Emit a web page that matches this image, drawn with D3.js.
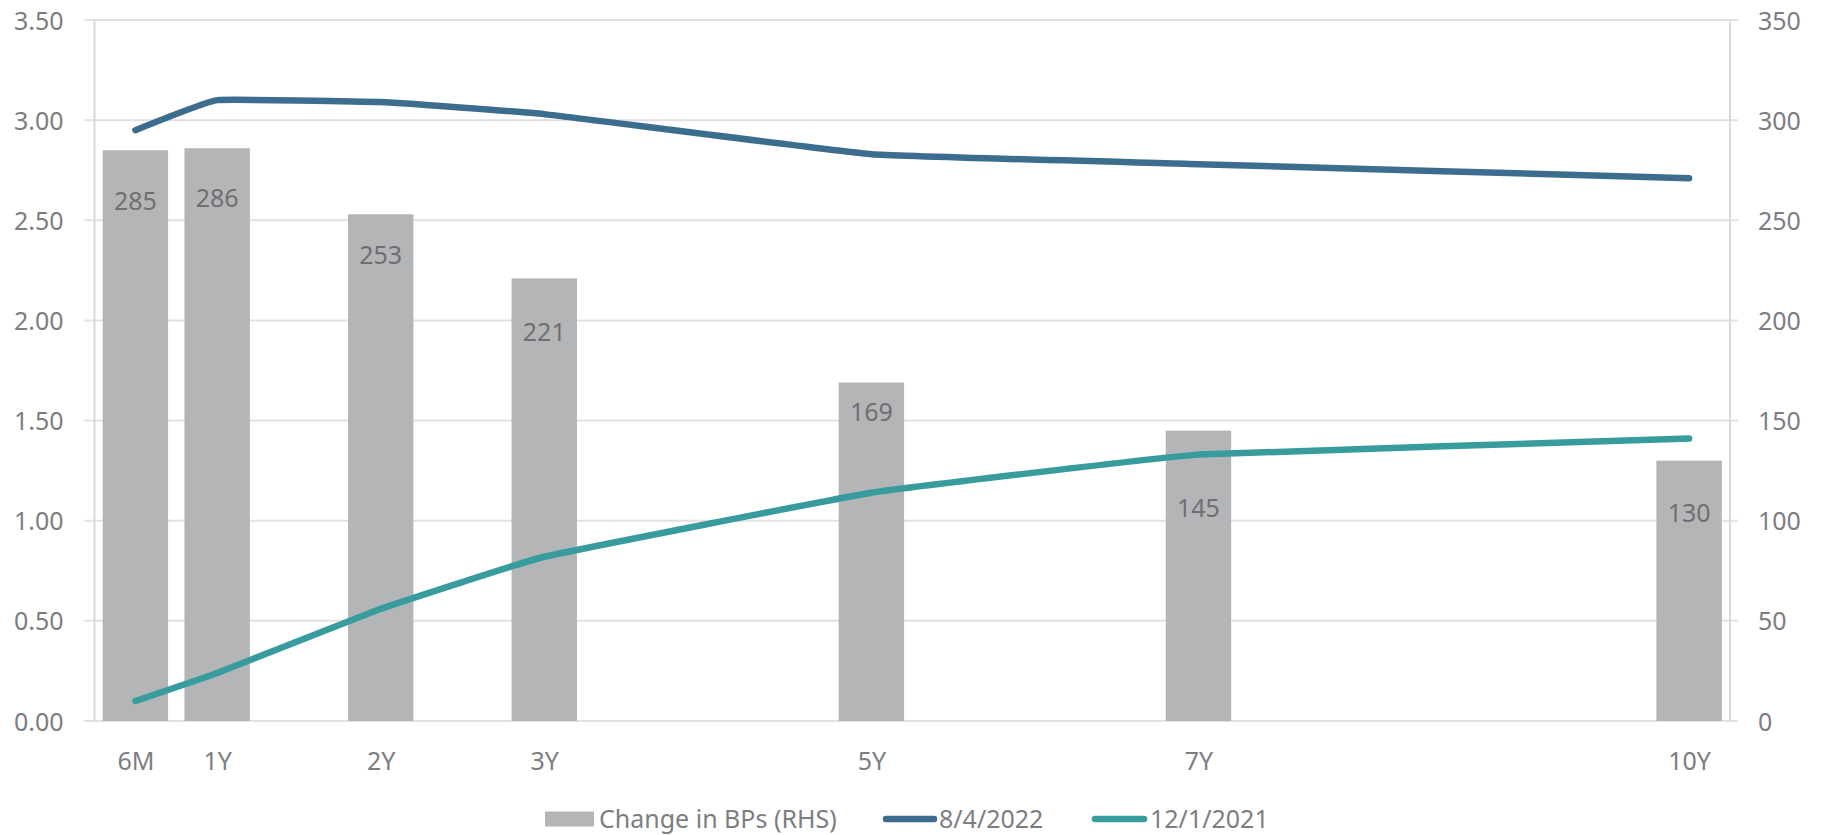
<!DOCTYPE html>
<html>
<head>
<meta charset="utf-8">
<script src="https://cdn.jsdelivr.net/npm/d3@7"></script>
<style>
  body { margin: 0; background: #fff; }
  text { font-family: "Noto Sans", "Open Sans", sans-serif; }
</style>
</head>
<body>
<svg id="chart" width="1823" height="835"></svg>
<script>
// tenors in years, and their tick labels
var tenors = [0.5, 1, 2, 3, 5, 7, 10];
var tenorLabels = ["6M", "1Y", "2Y", "3Y", "5Y", "7Y", "10Y"];
// change in basis points (right axis)
var changeBps = [285, 286, 253, 221, 169, 145, 130];
// yields (left axis)
var yield2022 = [2.95, 3.10, 3.09, 3.03, 2.83, 2.78, 2.71];
var yield2021 = [0.10, 0.24, 0.56, 0.82, 1.14, 1.33, 1.41];
var leftTicks = [0, 0.5, 1, 1.5, 2, 2.5, 3, 3.5];
var rightTicks = [0, 50, 100, 150, 200, 250, 300, 350];
var legendNames = ["Change in BPs (RHS)", "8/4/2022", "12/1/2021"];

// layout: how far each bar label sits below its bar top (px)
var labelDrop = [51, 50, 41, 54, 29, 77, 52];

var margin = {top: 20, right: 93, bottom: 114, left: 94.5}
  , W = 1823, H = 835
  , plotW = W - margin.left - margin.right
  , plotH = H - margin.top - margin.bottom;

var axisGray = "#7d7d82", gridGray = "#e1e1e1";
var blue = "#3d6d8e", teal = "#389b9d", barGray = "#b4b5b7";

var svg = d3.select("#chart");
var g = svg.append("g").attr("transform", "translate(" + margin.left + "," + margin.top + ")");

var x = d3.scaleLinear().domain([0.25, 10.25]).range([0, plotW]);
var yL = d3.scaleLinear().domain([0, 3.5]).range([plotH, 0]);
var yR = d3.scaleLinear().domain([0, 350]).range([plotH, 0]);
var barW = x(0.65) - x(0.25);

// gridlines (these also make the little tick stubs outside both axes)
g.append("g").selectAll("line").data(leftTicks).enter().append("line")
  .attr("x1", -10).attr("x2", plotW + 8)
  .attr("y1", function(d) { return yL(d); }).attr("y2", function(d) { return yL(d); })
  .attr("stroke", gridGray).attr("stroke-width", 2);

// vertical axis lines
g.append("line").attr("x1", 0).attr("x2", 0).attr("y1", 0).attr("y2", plotH)
  .attr("stroke", "#d9d9d9").attr("stroke-width", 2);
g.append("line").attr("x1", plotW).attr("x2", plotW).attr("y1", 0).attr("y2", plotH)
  .attr("stroke", "#d9d9d9").attr("stroke-width", 2);

// left axis labels
var leftAxis = d3.axisLeft(yL).tickValues(leftTicks).tickFormat(d3.format(".2f")).tickSize(0).tickPadding(31);
g.append("g").call(leftAxis).call(function(a) {
  a.select(".domain").remove();
  a.selectAll("text").attr("fill", axisGray).style("font-size", "25px").attr("dy", "0.36em");
});

// right axis labels
var rightAxis = d3.axisRight(yR).tickValues(rightTicks).tickFormat(d3.format("d")).tickSize(0).tickPadding(28);
g.append("g").attr("transform", "translate(" + plotW + ",0)").call(rightAxis).call(function(a) {
  a.select(".domain").remove();
  a.selectAll("text").attr("fill", axisGray).style("font-size", "25px").attr("dy", "0.36em");
});

// bottom axis labels
var bottomAxis = d3.axisBottom(x).tickValues(tenors)
  .tickFormat(function(d, i) { return tenorLabels[i]; }).tickSize(0).tickPadding(31);
g.append("g").attr("transform", "translate(0," + plotH + ")").call(bottomAxis).call(function(a) {
  a.select(".domain").remove();
  a.selectAll("text").attr("fill", axisGray).style("font-size", "25px");
});

// bars
var barData = tenors.map(function(t, i) { return {t: t, v: changeBps[i], drop: labelDrop[i]}; });
g.append("g").selectAll("rect").data(barData).enter().append("rect")
  .attr("x", function(d) { return x(d.t) - barW / 2; })
  .attr("width", barW)
  .attr("y", function(d) { return yR(d.v); })
  .attr("height", function(d) { return plotH - yR(d.v); })
  .attr("fill", barGray);

g.append("g").selectAll("text").data(barData).enter().append("text")
  .attr("x", function(d) { return x(d.t); })
  .attr("y", function(d) { return yR(d.v) + d.drop; })
  .attr("dy", "0.36em")
  .attr("text-anchor", "middle")
  .attr("fill", "#6f6f72")
  .style("font-size", "25px")
  .text(function(d) { return d.v; });

// lines - only lightly smoothed
var line = d3.line().curve(d3.curveCardinal.tension(0.75))
  .x(function(d) { return x(d[0]); })
  .y(function(d) { return yL(d[1]); });

[[yield2022, blue], [yield2021, teal]].forEach(function(s) {
  g.append("path")
    .datum(tenors.map(function(t, i) { return [t, s[0][i]]; }))
    .attr("d", line)
    .attr("fill", "none")
    .attr("stroke", s[1])
    .attr("stroke-width", 6.5)
    .attr("stroke-linecap", "round")
    .attr("stroke-linejoin", "round");
});

// legend
var legend = svg.append("g").attr("transform", "translate(0,819)");
legend.append("rect").attr("x", 545).attr("y", -7.5).attr("width", 49).attr("height", 15).attr("fill", barGray);
legend.append("text").attr("x", 599).attr("dy", "0.36em").attr("fill", axisGray).style("font-size", "25px")
  .text(legendNames[0]);
legend.append("line").attr("x1", 886).attr("x2", 934).attr("stroke", blue).attr("stroke-width", 6.5).attr("stroke-linecap", "round");
legend.append("text").attr("x", 939).attr("dy", "0.36em").attr("fill", axisGray).style("font-size", "25px")
  .text(legendNames[1]);
legend.append("line").attr("x1", 1095).attr("x2", 1144).attr("stroke", teal).attr("stroke-width", 6.5).attr("stroke-linecap", "round");
legend.append("text").attr("x", 1150).attr("dy", "0.36em").attr("fill", axisGray).style("font-size", "25px")
  .text(legendNames[2]);
</script>
</body>
</html>
